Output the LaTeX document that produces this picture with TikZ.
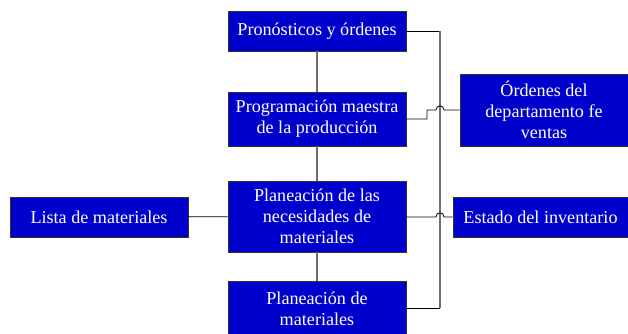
\documentclass[tikz,border=0pt]{standalone}
\usepackage{fontspec}
\setmainfont{Liberation Serif}
\usetikzlibrary{positioning}
\definecolor{boxblue}{RGB}{0,0,204}
\definecolor{trunkgray}{RGB}{110,110,110}
\tikzset{
  bloque/.style={draw=black!80, fill=boxblue, text=white, align=center,
    font=\fontsize{13.6}{15.6}\selectfont, inner sep=2pt},
  enlace/.style={draw=black, line width=0.6pt},
  tronco/.style={draw=trunkgray, line width=0.8pt}
}

\begin{document}
\begin{tikzpicture}[x=0.75pt,y=-0.75pt]
\useasboundingbox (0,0) rectangle (628,333);
% bloques centrales
\node[bloque, minimum width=133.5pt, minimum height=30pt] (pron) at (317,31) {Pronósticos y órdenes};
\node[bloque, minimum width=133.5pt, minimum height=40.5pt] (prog) at (317,119) {Programación maestra\\de la producción};
\node[bloque, minimum width=133.5pt, minimum height=53.5pt] (nece) at (317,216.5) {Planeación de las\\necesidades de\\materiales};
\node[bloque, minimum width=133.5pt, minimum height=41pt] (mate) at (317,308.5) {Planeación de\\materiales};
% bloques laterales
\node[bloque, minimum width=133.5pt, minimum height=30pt] (lista) at (99,217) {Lista de materiales};
\node[bloque, minimum width=126pt, minimum height=54pt] (vent) at (544,110) {Órdenes del\\departamento fe\\ventas};
\node[bloque, minimum width=131.25pt, minimum height=30pt] (inv) at (540.5,217) {Estado del inventario};
% columna central
\draw[tronco] (pron) -- (prog);
\draw[tronco] (prog) -- (nece);
\draw[tronco] (nece) -- (mate);
% tronco vertical
\coordinate (t1) at (440,31);
\coordinate (t4) at (440,308);
\draw[enlace] (pron.east |- t1) -- (t1);
\draw[enlace] (mate.east |- t4) -- (t4);
\draw[tronco] (t1) -- (t4);
% saltos
\draw[enlace] (prog.east |- 0,119) -- (427,119) -- (427,110) -- (436,110)
  .. controls (436,104.5) and (444,104.5) .. (444,110) -- (vent.west);
\draw[enlace] (nece.east |- 0,217) -- (436,217)
  .. controls (436,211.5) and (444,211.5) .. (444,217) -- (inv.west);
\draw[enlace] (lista) -- (nece);
\end{tikzpicture}
\end{document}
